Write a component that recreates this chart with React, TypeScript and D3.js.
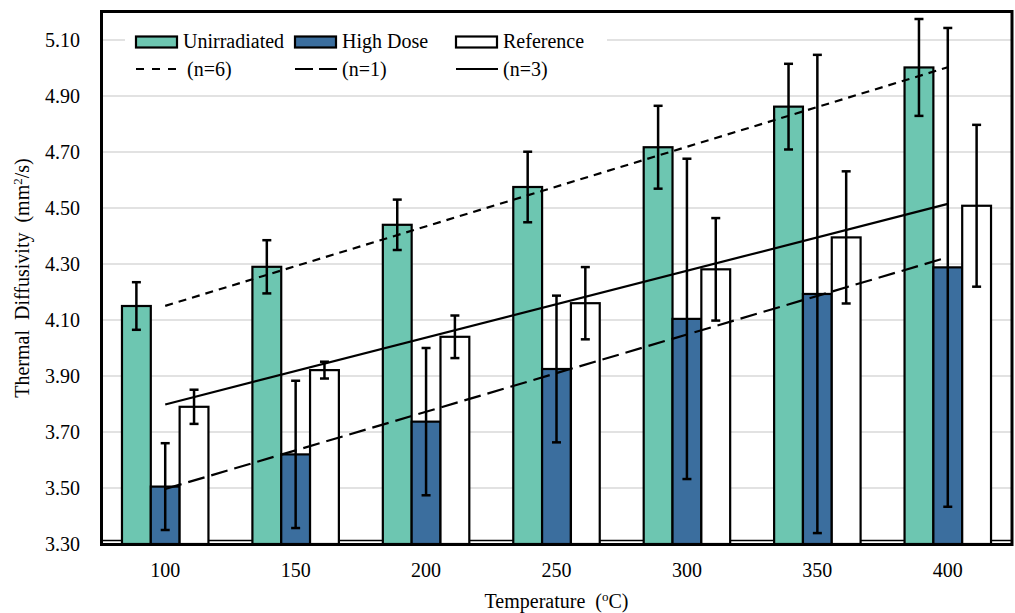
import React from "react";
import * as d3 from "d3";

const categories = ["100", "150", "200", "250", "300", "350", "400"];
const unirradiated = [4.15, 4.29, 4.44, 4.575, 4.717, 4.862, 5.002];
const unirradiatedErr = [0.085, 0.095, 0.09, 0.126, 0.148, 0.153, 0.173];
const highDose = [3.505, 3.62, 3.737, 3.925, 4.104, 4.193, 4.288];
const highDoseErr = [0.155, 0.263, 0.263, 0.262, 0.572, 0.854, 0.855];
const reference = [3.79, 3.921, 4.04, 4.16, 4.281, 4.395, 4.508];
const referenceErr = [0.061, 0.03, 0.076, 0.129, 0.183, 0.236, 0.289];
const yTicks = [3.3, 3.5, 3.7, 3.9, 4.1, 4.3, 4.5, 4.7, 4.9, 5.1];
const seriesNames = ["Unirradiated", "High Dose", "Reference"];
const trendNames = ["(n=6)", "(n=1)", "(n=3)"];

const W = 1015;
const H = 613;
const FONT = "Liberation Serif";
const colors = ["#6DC6B1", "#3B6E9E", "#FFFFFF"];
const dashes = ["8,6", "17,7", null];

function linFit(vals: number[]) {
  const n = vals.length;
  const xs = vals.map((_, i) => i);
  const mx = d3.mean(xs) as number;
  const my = d3.mean(vals) as number;
  let sxy = 0, sxx = 0;
  for (let i = 0; i < n; i++) {
    sxy += (xs[i] - mx) * (vals[i] - my);
    sxx += (xs[i] - mx) * (xs[i] - mx);
  }
  const b = sxy / sxx;
  const a = my - b * mx;
  return (x: number) => a + b * x;
}

const T = (props: any) => (
  <text fill="#000" fontSize={20} {...props} style={{ fontFamily: FONT, whiteSpace: "pre", ...(props.style || {}) }} />
);

export default function App() {
  const left = 100, right = 1013, top = 12, bottom = 544;
  const gap = 0.337;
  const x = d3.scaleBand<string>().domain(categories).range([left, right]).paddingInner(gap).paddingOuter(gap / 2);
  const xs = d3.scaleBand<number>().domain([0, 1, 2]).range([0, x.bandwidth()]);
  const y = d3.scaleLinear().domain([3.3, 5.2]).range([bottom, top]);

  const series = [
    { vals: unirradiated, errs: unirradiatedErr },
    { vals: highDose, errs: highDoseErr },
    { vals: reference, errs: referenceErr },
  ];

  const center = (c: string) => (x(c) as number) + x.bandwidth() / 2;
  const line = d3.line<[number, number]>().x((d) => d[0]).y((d) => d[1]);

  const legendX = [136, 295, 456];

  return (
    <svg width={W} height={H} style={{ position: "absolute", left: 0, top: 0, background: "#fff" }}>
      <rect x={0} y={0} width={W} height={H} fill="#fff" />
      {/* gridlines */}
      {yTicks.slice(1).map((t) => (
        <line key={t} x1={left} x2={right} y1={y(t)} y2={y(t)} stroke="#d9d9d9" strokeWidth={1.3} />
      ))}
      {/* thin axis line */}
      <line x1={left} x2={right} y1={540.5} y2={540.5} stroke="#000" strokeWidth={1.5} />
      {/* bars */}
      {series.map((s, si) =>
        categories.map((c, ci) => (
          <rect
            key={`b${si}-${ci}`}
            x={(x(c) as number) + (xs(si) as number)}
            y={y(s.vals[ci])}
            width={xs.bandwidth()}
            height={y(3.3) - y(s.vals[ci])}
            fill={colors[si]}
            stroke="#000"
            strokeWidth={2.2}
          />
        ))
      )}
      {/* error bars */}
      {series.map((s, si) =>
        categories.map((c, ci) => {
          const cx = (x(c) as number) + (xs(si) as number) + xs.bandwidth() / 2;
          const y1 = y(s.vals[ci] + s.errs[ci]);
          const y2 = y(s.vals[ci] - s.errs[ci]);
          return (
            <g key={`e${si}-${ci}`} stroke="#000" strokeWidth={2.5}>
              <line x1={cx} x2={cx} y1={y1} y2={y2} />
              <line x1={cx - 4.5} x2={cx + 4.5} y1={y1} y2={y1} />
              <line x1={cx - 4.5} x2={cx + 4.5} y1={y2} y2={y2} />
            </g>
          );
        })
      )}
      {/* trend lines */}
      {series.map((s, si) => {
        const f = linFit(s.vals);
        const pts: [number, number][] = [
          [center(categories[0]), y(f(0))],
          [center(categories[categories.length - 1]), y(f(categories.length - 1))],
        ];
        return (
          <path
            key={`t${si}`}
            d={line(pts) as string}
            fill="none"
            stroke="#000"
            strokeWidth={2.2}
            strokeDasharray={dashes[si] ?? undefined}
          />
        );
      })}
      {/* plot border */}
      <rect x={101.5} y={11.5} width={910.5} height={533} fill="none" stroke="#000" strokeWidth={3} />
      {/* y ticks */}
      {yTicks.map((t) => (
        <T key={`yt${t}`} x={80} y={y(t)} dy="0.35em" textAnchor="end">
          {t.toFixed(2)}
        </T>
      ))}
      {/* x ticks */}
      {categories.map((c) => (
        <T key={`xt${c}`} x={center(c)} y={577} textAnchor="middle">
          {c}
        </T>
      ))}
      {/* axis titles */}
      <T x={(left + right) / 2} y={608} textAnchor="middle">
        <tspan>{"Temperature  ("}</tspan>
        <tspan dy={-7} fontSize={13}>o</tspan>
        <tspan dy={7}>{"C)"}</tspan>
      </T>
      <T transform={`translate(29, ${(top + bottom) / 2}) rotate(-90)`} textAnchor="middle">
        <tspan>{"Thermal  Diffusivity  (mm"}</tspan>
        <tspan dy={-7} fontSize={13}>2</tspan>
        <tspan dy={7}>{"/s)"}</tspan>
      </T>
      {/* legend */}
      <rect x={125} y={22} width={482} height={66} fill="#fff" />
      {seriesNames.map((n, i) => (
        <g key={`l${i}`}>
          <rect x={legendX[i]} y={36.5} width={41} height={11} fill={colors[i]} stroke="#000" strokeWidth={2.2} />
          <T x={legendX[i] + 47} y={48}>
            {n}
          </T>
        </g>
      ))}
      {trendNames.map((n, i) => (
        <g key={`lt${i}`}>
          <line
            x1={legendX[i]}
            x2={legendX[i] + 42}
            y1={69}
            y2={69}
            stroke="#000"
            strokeWidth={2.2}
            strokeDasharray={i === 0 ? "8,8" : i === 1 ? "18,6" : undefined}
          />
          <T x={legendX[i] + (i === 0 ? 51 : 47)} y={76}>
            {n}
          </T>
        </g>
      ))}
    </svg>
  );
}
